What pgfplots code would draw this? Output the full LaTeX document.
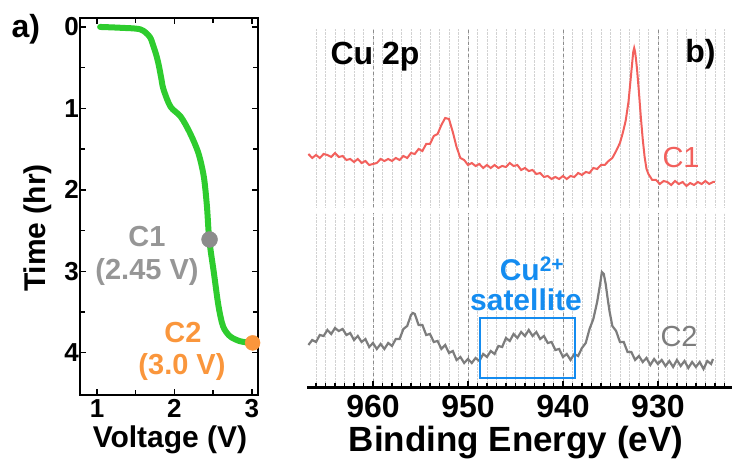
\documentclass[border=0pt]{standalone}
\usepackage{fontspec}
\setmainfont{Liberation Sans}
\usepackage{pgfplots}
\pgfplotsset{compat=1.18}
\definecolor{curvegreen}{RGB}{46,204,46}
\definecolor{dotgray}{RGB}{140,140,140}
\definecolor{labgray}{RGB}{150,150,150}
\definecolor{dotorange}{RGB}{250,150,60}
\definecolor{specred}{RGB}{242,96,92}
\definecolor{specgray}{RGB}{125,125,125}
\definecolor{satblue}{RGB}{20,140,240}

\begin{document}
\begin{tikzpicture}[x=1pt,y=1pt]
\path[use as bounding box] (0,0) rectangle (732,465);

% ---- a) voltage profile
\begin{axis}[
  at={(80pt,70pt)}, anchor=south west, scale only axis,
  width=178pt, height=377pt,
  xmin=0.78, xmax=3.08, ymin=-0.11, ymax=4.52, y dir=reverse,
  xtick={1,2,3}, minor xtick={1.5,2.5},
  ytick={0,1,2,3,4}, minor ytick={0.5,1.5,2.5,3.5},
  axis line style={line width=1.6pt},
  tick style={line width=1.4pt, black},
  major tick length=6pt, minor tick length=5pt,
  tick label style={font=\bfseries\fontsize{26}{28}\selectfont},
  yticklabel style={inner xsep=1pt},
  xticklabel style={inner ysep=2pt, yshift=-2pt},
  /pgf/number format/assume math mode=true,
  clip=false,
]
\addplot[curvegreen, line width=6pt, line cap=round, smooth, tension=0.5] coordinates {
  (1.04,0)(1.3,0.01)(1.56,0.03)(1.68,0.12)(1.73,0.24)(1.77,0.36)(1.80,0.48)
  (1.83,0.63)(1.86,0.77)(1.95,0.98)(2.08,1.10)(2.20,1.30)(2.31,1.55)(2.38,1.84)
  (2.42,2.20)(2.45,2.61)(2.51,3.02)(2.57,3.43)(2.63,3.68)(2.72,3.80)(2.85,3.86)(3.0,3.88)
};
\addplot[only marks, mark=*, mark size=8pt, dotgray, mark options={draw=none, fill=dotgray}] coordinates {(2.454,2.61)};
\addplot[only marks, mark=*, mark size=7.5pt, dotorange, mark options={draw=none, fill=dotorange}] coordinates {(3.01,3.88)};
\end{axis}

% ---- b) Cu 2p, upper spectrum (C1)
\begin{axis}[
  at={(307pt,258pt)}, anchor=south west, scale only axis,
  width=425pt, height=179pt,
  xmin=922.2, xmax=966.95, x dir=reverse,
  ymin=0, ymax=179,
  axis line style={draw=none},
  xtick={930,940,950,960}, minor xtick={923,924,...,966},
  xticklabels={}, ytick=\empty,
  tick style={draw=none},
  xmajorgrids, xminorgrids,
  major grid style={dashed, gray!90, line width=0.8pt},
  minor grid style={densely dotted, gray!35, line width=0.6pt},
]
\addplot[specred, line width=2pt] coordinates {
(966.8,53)(966.4,49)(966.0,52)(965.6,49)(965.2,53)(964.8,52)(964.4,50)(964.0,54)
(963.6,50)(963.2,51)(962.8,47)(962.4,48)(962.0,45)(961.6,48)(961.2,44)(960.8,46)
(960.4,42)(960.0,43)(959.6,44)(959.2,48)(958.8,46)(958.4,48)(958.0,46)(957.6,49)
(957.2,47)(956.8,51)(956.4,49)(956.0,54)(955.6,53)(955.2,58)(954.8,56)(954.4,63)
(954.0,63)(953.6,71)(953.2,73)(952.8,82)(952.4,89)(952.0,88)(951.6,75)(951.2,60)
(950.8,49)(950.4,47)(950.0,42)(949.6,44)(949.2,41)(948.8,43)(948.4,39)(948.0,42)
(947.6,39)(947.2,42)(946.8,39)(946.4,41)(946.0,40)(945.6,44)(945.2,41)(944.8,42)
(944.4,37)(944.0,39)(943.6,36)(943.2,37)(942.8,33)(942.4,34)(942.0,30)(941.6,31)
(941.2,28)(940.8,30)(940.4,28)(940.0,31)(939.6,28)(939.2,31)(938.8,30)(938.4,34)
(938.0,32)(937.6,35)(937.2,34)(936.8,39)(936.4,38)(936.0,42)(935.6,42)(935.2,46)
(934.8,49)(934.4,56)(934.0,64)(933.7,74)(933.4,86)(933.1,105)(932.9,125)(932.7,145)
(932.6,155)(932.5,159)(932.4,155)(932.3,147)(932.2,138)(932.0,115)(931.8,90)(931.6,68)
(931.4,50)(931.2,38)(931.0,33)(930.6,27)(930.2,27)(929.8,23)(929.4,26)(929.0,25)
(928.6,22)(928.2,26)(927.8,23)(927.4,25)(927.0,21)(926.6,24)(926.2,22)(925.8,25)
(925.4,23)(925.0,26)(924.6,23)(924.2,25)(924.0,25)
};
\end{axis}

% ---- b) lower spectrum (C2) with binding energy axis
\begin{axis}[
  at={(307pt,77pt)}, anchor=south west, scale only axis,
  width=425pt, height=175pt,
  xmin=922.2, xmax=966.95, x dir=reverse,
  ymin=0, ymax=175,
  axis x line=bottom, axis y line=none,
  x axis line style={-, line width=3pt},
  xtick={930,940,950,960}, minor xtick={923,924,...,966},
  xtick align=inside, ytick=\empty,
  tick style={line width=1.6pt, black},
  major tick length=7pt, minor tick length=4.5pt,
  xmajorgrids, xminorgrids,
  major grid style={dashed, gray!90, line width=0.8pt},
  minor grid style={densely dotted, gray!35, line width=0.6pt},
  tick label style={font=\bfseries\fontsize{32}{34}\selectfont},
  xticklabel style={yshift=-4pt},
  /pgf/number format/assume math mode=true,
  /pgf/number format/1000 sep={},
]
\addplot[specgray, line width=2.2pt] coordinates {
(966.8,43)(966.4,48)(966.0,46)(965.6,53)(965.2,52)(964.8,58)(964.4,54)(964.0,60)
(963.6,57)(963.2,59)(962.8,53)(962.4,55)(962.0,48)(961.6,52)(961.2,46)(960.8,49)
(960.4,41)(960.0,45)(959.6,39)(959.2,44)(958.8,39)(958.4,45)(958.0,42)(957.6,49)
(957.2,49)(956.8,59)(956.4,62)(956.0,73)(955.8,75)(955.6,74)(955.2,63)(954.8,63)
(954.4,53)(954.0,54)(953.6,46)(953.2,47)(952.8,39)(952.4,43)(952.0,35)(951.6,37)
(951.2,28)(950.8,31)(950.4,25)(950.0,29)(949.6,25)(949.2,30)(948.8,27)(948.4,34)
(948.0,31)(947.6,37)(947.2,34)(946.8,42)(946.4,41)(946.0,50)(945.6,47)(945.2,54)
(944.8,50)(944.4,56)(944.0,52)(943.6,58)(943.2,52)(942.8,56)(942.4,49)(942.0,52)
(941.6,45)(941.2,46)(940.8,38)(940.4,39)(940.0,31)(939.6,34)(939.2,28)(938.8,34)
(938.4,32)(938.0,40)(937.6,45)(937.2,59)(936.8,69)(936.4,86)(936.1,103)(935.9,116)
(935.7,114)(935.5,104)(935.3,90)(935.1,77)(934.8,62)(934.4,57)(934.0,46)(933.6,46)
(933.2,36)(932.8,36)(932.4,28)(932.0,32)(931.6,26)(931.2,30)(930.8,23)(930.4,29)
(930.0,24)(929.6,28)(929.2,22)(928.8,27)(928.4,21)(928.0,28)(927.6,22)(927.2,27)
(926.8,20)(926.4,26)(926.0,21)(925.6,26)(925.2,19)(924.8,27)(924.4,24)(924.2,29)
};
\draw[satblue, line width=2pt] (axis cs:948.74,10) rectangle (axis cs:938.74,70);
\end{axis}

% ---- texts
\node[anchor=base west, font=\bfseries\fontsize{32}{34}\selectfont] at (8,427) {a)};
\node[rotate=90, font=\bfseries\fontsize{30}{32}\selectfont] at (38,237) {Time (hr)};
\node[anchor=base, font=\bfseries\fontsize{30}{32}\selectfont] at (170,17) {Voltage (V)};
\node[anchor=base, labgray, font=\bfseries\fontsize{29}{31}\selectfont] at (147,218) {C1};
\node[anchor=base, labgray, font=\bfseries\fontsize{29}{31}\selectfont] at (147,185) {(2.45 V)};
\node[anchor=base, dotorange, font=\bfseries\fontsize{29}{31}\selectfont] at (183,122) {C2};
\node[anchor=base, dotorange, font=\bfseries\fontsize{29}{31}\selectfont] at (182,90) {(3.0 V)};

\node[anchor=base west, font=\bfseries\fontsize{32}{34}\selectfont] at (327,400) {Cu 2p};
\node[anchor=base east, font=\bfseries\fontsize{32}{34}\selectfont] at (719,402) {b)};
\node[anchor=base west, specred, font=\fontsize{29}{31}\selectfont] at (659,297) {C1};
\node[anchor=base west, specgray, font=\fontsize{29}{31}\selectfont] at (657,118) {C2};
\node[anchor=base, inner sep=0pt, satblue, font=\bfseries\fontsize{30}{32}\selectfont] at (532,184) {Cu\textsuperscript{2+}};
\node[anchor=base, inner sep=0pt, satblue, font=\bfseries\fontsize{30}{32}\selectfont] at (526,154) {satellite};
\node[anchor=base, font=\bfseries\fontsize{35}{37}\selectfont] at (516,13) {Binding Energy (eV)};
\end{tikzpicture}
\end{document}
